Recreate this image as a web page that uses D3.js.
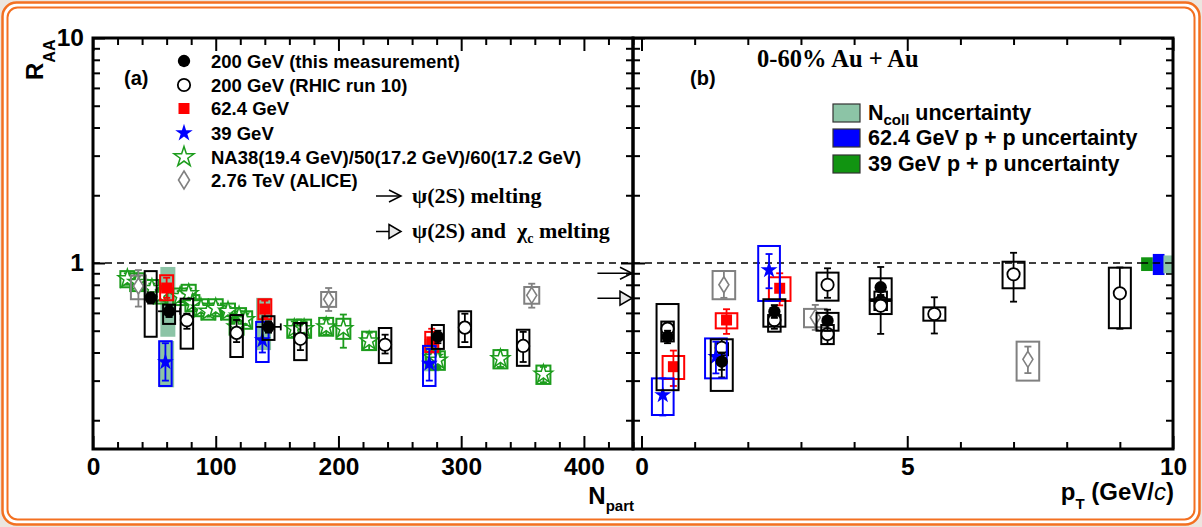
<!DOCTYPE html>
<html>
<head>
<meta charset="utf-8">
<script src="https://cdn.jsdelivr.net/npm/d3@7"></script>
<style>
  body { margin: 0; background: #ece6e0; }
  svg { display: block; font-family: "Liberation Sans", Arial, Helvetica, sans-serif; }
  .serif { font-family: "Liberation Serif", "Times New Roman", serif; }
</style>
</head>
<body>
<div id="chart"></div>
<script>
// ---------- tick values ----------
const xMajorA = [0, 100, 200, 300, 400];
const xMinorA = [20, 40, 60, 80, 120, 140, 160, 180, 220, 240, 260, 280, 320, 340, 360, 380, 420, 440];
const xMajorB = [0, 5, 10];
const xMinorB = [1, 2, 3, 4, 6, 7, 8, 9];
const yMajor = [1, 10];
const yMinor = [0.2, 0.3, 0.4, 0.5, 0.6, 0.7, 0.8, 0.9, 2, 3, 4, 5, 6, 7, 8, 9];

// ---------- panel (a): R_AA vs Npart ----------
// rows: [Npart, RAA, statLo, statHi, sysLo, sysHi, xErr]
const filledA = [
  [47, 0.70, 0.66, 0.74, 0.47, 0.92, 0],
  [62, 0.61, 0.575, 0.645, 0.536, 0.653, 9],
  [143, 0.52, 0.49, 0.55, 0.455, 0.58, 10],
  [281, 0.47, 0.44, 0.50, 0.415, 0.53, 0]
];
const openA = [
  [76.5, 0.556, 0.51, 0.595, 0.416, 0.694],
  [117, 0.489, 0.445, 0.558, 0.382, 0.587],
  [169, 0.46, 0.41, 0.537, 0.37, 0.541],
  [238, 0.433, 0.396, 0.48, 0.359, 0.514],
  [303, 0.516, 0.445, 0.595, 0.423, 0.61],
  [350.5, 0.428, 0.363, 0.494, 0.349, 0.505]
];
const redA = [
  [60, 0.774, 0.70, 0.86, 0.683, 0.882],
  [140, 0.624, 0.57, 0.68, 0.562, 0.69],
  [276, 0.446, 0.40, 0.51, 0.402, 0.494]
];
const blueA = [
  [59, 0.363, 0.30, 0.44, 0.284, 0.449],
  [138, 0.454, 0.40, 0.52, 0.363, 0.547],
  [274, 0.357, 0.30, 0.415, 0.284, 0.428]
];
const greenA = [
  [28, 0.85, 0.80, 0.90, 0.78, 0.92],
  [36, 0.82, 0.77, 0.87, 0.75, 0.90],
  [48, 0.77, 0.73, 0.81, 0.71, 0.84],
  [55, 0.72, 0.68, 0.76, 0.66, 0.79],
  [71, 0.71, 0.67, 0.75, 0.65, 0.77],
  [78, 0.73, 0.69, 0.77, 0.67, 0.80],
  [81, 0.66, 0.63, 0.70, 0.61, 0.72],
  [88, 0.63, 0.60, 0.66, 0.58, 0.69],
  [94, 0.61, 0.58, 0.64, 0.56, 0.66],
  [100, 0.63, 0.60, 0.66, 0.58, 0.69],
  [110, 0.61, 0.58, 0.64, 0.56, 0.66],
  [119, 0.58, 0.55, 0.61, 0.53, 0.63],
  [124, 0.56, 0.53, 0.59, 0.51, 0.61],
  [117, 0.52, 0.49, 0.55, 0.48, 0.57],
  [164, 0.51, 0.47, 0.55, 0.465, 0.56],
  [172, 0.51, 0.47, 0.55, 0.465, 0.56],
  [190, 0.52, 0.48, 0.56, 0.475, 0.57],
  [204, 0.51, 0.42, 0.59, 0.46, 0.565],
  [225, 0.45, 0.41, 0.49, 0.41, 0.495],
  [277, 0.38, 0.35, 0.41, 0.345, 0.415],
  [281, 0.37, 0.34, 0.40, 0.335, 0.405],
  [332, 0.375, 0.345, 0.41, 0.34, 0.41],
  [367, 0.32, 0.295, 0.345, 0.29, 0.35]
];
const grayA = [
  [37, 0.79, 0.64, 0.93, 0.69, 0.88],
  [192, 0.69, 0.612, 0.774, 0.638, 0.743],
  [357.5, 0.718, 0.633, 0.809, 0.659, 0.782]
];
// Ncoll uncertainty bands: [Npart, lo, hi]
const ncollA = [
  [61, 0.47, 0.96],
  [60, 0.28, 0.45],
  [139, 0.41, 0.70],
  [276, 0.33, 0.46]
];
// melting scenario arrows at the right edge: RAA level
const meltLevels = [0.90, 0.697];

// ---------- panel (b): R_AA vs pT ----------
const filledB = [
  [0.49, 0.47, 0.44, 0.50, 0.272, 0.657],
  [1.51, 0.364, 0.335, 0.40, 0.27, 0.458],
  [2.5, 0.608, 0.57, 0.65, 0.521, 0.69],
  [3.5, 0.554, 0.50, 0.62, 0.50, 0.60],
  [4.5, 0.78, 0.70, 0.96, 0.69, 0.855]
];
const openWideB = [
  [3.5, 0.80, 0.70, 0.947, 0.68, 0.906],
  [4.5, 0.646, 0.484, 0.72, 0.593, 0.678],
  [5.51, 0.593, 0.486, 0.704, 0.554, 0.635],
  [7.0, 0.891, 0.673, 1.11, 0.772, 1.013],
  [9.0, 0.733, 0.51, 0.955, 0.513, 0.953]
];
const openNarrowB = [
  [0.49, 0.51, 0.48, 0.54, 0.448, 0.549],
  [1.51, 0.42, 0.31, 0.46, 0.389, 0.44],
  [2.5, 0.558, 0.51, 0.60, 0.495, 0.587],
  [3.5, 0.483, 0.436, 0.53, 0.436, 0.53],
  [4.5, 0.67, 0.62, 0.72, 0.618, 0.746]
];
const redB = [
  [0.6, 0.346, 0.284, 0.408, 0.305, 0.386],
  [1.6, 0.558, 0.484, 0.623, 0.512, 0.598],
  [2.6, 0.772, 0.648, 0.90, 0.678, 0.864]
];
const blueB = [
  [0.4, 0.259, 0.21, 0.307, 0.211, 0.307],
  [1.4, 0.383, 0.323, 0.447, 0.307, 0.462],
  [2.4, 0.931, 0.772, 1.096, 0.678, 1.19]
];
const grayB = [
  [1.55, 0.80, 0.70, 0.92, 0.69, 0.921],
  [3.27, 0.573, 0.504, 0.651, 0.518, 0.625],
  [7.27, 0.373, 0.324, 0.425, 0.30, 0.447]
];
// global uncertainties drawn at RAA = 1: [lo, hi]
const uncRanges = [[0.921, 1.06], [0.884, 1.097], [0.90, 1.08]];
const uncLabels = ["39 GeV p + p uncertainty", "62.4 GeV p + p uncertainty", "coll uncertainty"];

const legendA = [
  "200 GeV (this measurement)",
  "200 GeV (RHIC run 10)",
  "62.4 GeV",
  "39 GeV",
  "NA38(19.4 GeV)/50(17.2 GeV)/60(17.2 GeV)",
  "2.76 TeV (ALICE)"
];

// ---------- colours ----------
const cRed = "#ff0000", cBlue = "#0000ff", cGreen = "#1c9c1c", cGray = "#808080";
const cTeal = "#8cc4a6", cDkGreen = "#119411";

// ---------- svg + frame ----------
const W = 1202, H = 527;
const svg = d3.select("#chart").append("svg").attr("width", W).attr("height", H);
svg.append("rect").attr("width", W).attr("height", H).attr("fill", "#ece6e0");
svg.append("rect").attr("x", 2.5).attr("y", 2.5).attr("width", W - 5).attr("height", H - 5)
  .attr("rx", 14).attr("fill", "#fff").attr("stroke", "#f37021").attr("stroke-width", 2.5);
svg.append("rect").attr("x", 7.5).attr("y", 7.5).attr("width", W - 15).attr("height", H - 15)
  .attr("rx", 10).attr("fill", "none").attr("stroke", "#f37021").attr("stroke-width", 2);

// ---------- scales ----------
const yTop = 38, yBot = 449;
const y = d3.scaleLog().domain([0.149, 10]).range([yBot, yTop]);
const xa = d3.scaleLinear().domain([0, 440]).range([93, 633]);
const xb = d3.scaleLinear().domain([-0.16, 10]).range([633, 1173]);

// ---------- axes ----------
function tickGroup(axis, tr, vals, size, labels) {
  const g = svg.append("g").attr("transform", tr)
    .call(axis.tickValues(vals).tickSizeInner(-size).tickSizeOuter(0).tickPadding(9)
      .tickFormat(labels ? d3.format("d") : ""));
  g.select(".domain").remove();
  g.selectAll(".tick line").attr("stroke", "#000").attr("stroke-width", 2);
  g.selectAll(".tick text").attr("fill", "#000").attr("font-size", 24.5).attr("font-weight", "bold")
    .attr("font-family", "'Liberation Sans', Arial, sans-serif");
  return g;
}
function drawAxes(x, xMaj, xMin, left, right) {
  tickGroup(d3.axisBottom(x), `translate(0,${yBot})`, xMaj, 13, true);
  tickGroup(d3.axisBottom(x), `translate(0,${yBot})`, xMin, 7, false);
  tickGroup(d3.axisTop(x), `translate(0,${yTop})`, xMaj, 13, false);
  tickGroup(d3.axisTop(x), `translate(0,${yTop})`, xMin, 7, false);
  tickGroup(d3.axisLeft(y), `translate(${left},0)`, yMajor, 12, left === 93);
  tickGroup(d3.axisLeft(y), `translate(${left},0)`, yMinor, 7, false);
  tickGroup(d3.axisRight(y), `translate(${right},0)`, yMajor, 12, false);
  tickGroup(d3.axisRight(y), `translate(${right},0)`, yMinor, 7, false);
}
drawAxes(xa, xMajorA, xMinorA, 93, 633);
drawAxes(xb, xMajorB, xMinorB, 633, 1173);

// dashed line at RAA = 1
svg.append("line").attr("x1", xa(0)).attr("x2", xb(10)).attr("y1", y(1)).attr("y2", y(1))
  .attr("stroke", "#000").attr("stroke-width", 1.6).attr("stroke-dasharray", "7,5");

// ---------- markers ----------
const circlePath = d3.symbol(d3.symbolCircle, 120)();
const squarePath = d3.symbol(d3.symbolSquare, 121)();
const starPath = d3.symbol(d3.symbolStar, 90)();
const openStarPath = d3.symbol(d3.symbolStar, 105)();
const diamondPath = "M0,-8L5,0L0,8L-5,0Z";

const styles = {
  filled: { color: "#000", path: circlePath, fill: "#000" },
  open: { color: "#000", path: circlePath, fill: "#fff", stroke: "#000", sw: 1.8 },
  red: { color: cRed, path: squarePath, fill: cRed },
  blue: { color: cBlue, path: starPath, fill: cBlue },
  green: { color: cGreen, path: openStarPath, fill: "#fff", stroke: cGreen, sw: 1.5 },
  gray: { color: cGray, path: diamondPath, fill: "#fff", stroke: cGray, sw: 1.6 }
};

function drawSeries(x, rows, st, bw) {
  const g = svg.append("g");
  g.selectAll(null).data(rows).join("rect")
    .attr("x", d => x(d[0]) - bw / 2).attr("width", bw)
    .attr("y", d => y(d[5])).attr("height", d => y(d[4]) - y(d[5]))
    .attr("fill", "none").attr("stroke", st.color).attr("stroke-width", 2);
  g.selectAll(null).data(rows).join("line")
    .attr("x1", d => x(d[0])).attr("x2", d => x(d[0]))
    .attr("y1", d => y(d[2])).attr("y2", d => y(d[3]))
    .attr("stroke", st.color).attr("stroke-width", 1.8);
  g.selectAll(null).data(rows.flatMap(d => [[d[0], d[2]], [d[0], d[3]]])).join("line")
    .attr("x1", d => x(d[0]) - 3.5).attr("x2", d => x(d[0]) + 3.5)
    .attr("y1", d => y(d[1])).attr("y2", d => y(d[1]))
    .attr("stroke", st.color).attr("stroke-width", 1.8);
  const xe = rows.filter(d => d[6]);
  g.selectAll(null).data(xe).join("line")
    .attr("x1", d => x(d[0] - d[6])).attr("x2", d => x(d[0] + d[6]))
    .attr("y1", d => y(d[1])).attr("y2", d => y(d[1]))
    .attr("stroke", st.color).attr("stroke-width", 1.8);
  g.selectAll(null).data(xe).join("line")
    .attr("x1", d => x(d[0] + d[6])).attr("x2", d => x(d[0] + d[6]))
    .attr("y1", d => y(d[1]) - 3.5).attr("y2", d => y(d[1]) + 3.5)
    .attr("stroke", st.color).attr("stroke-width", 1.8);
  g.selectAll(null).data(rows).join("path")
    .attr("transform", d => `translate(${x(d[0])},${y(d[1])})`)
    .attr("d", st.path).attr("fill", st.fill)
    .attr("stroke", st.stroke || "none").attr("stroke-width", st.sw || 0);
}

// panel (a)
svg.append("g").selectAll("rect").data(ncollA).join("rect")
  .attr("x", d => xa(d[0]) - 7.5).attr("width", 15)
  .attr("y", d => y(d[2])).attr("height", d => y(d[1]) - y(d[2]))
  .attr("fill", cTeal);
drawSeries(xa, greenA, styles.green, 14);
drawSeries(xa, grayA, styles.gray, 15);
drawSeries(xa, openA, styles.open, 12.5);
drawSeries(xa, redA, styles.red, 13);
drawSeries(xa, blueA, styles.blue, 12.5);
drawSeries(xa, filledA, styles.filled, 12);

// panel (b)
drawSeries(xb, grayB, styles.gray, 22.6);
drawSeries(xb, openNarrowB, styles.open, 12.5);
drawSeries(xb, openWideB, styles.open, 22);
drawSeries(xb, redB, styles.red, 21.6);
drawSeries(xb, blueB, styles.blue, 21.7);
drawSeries(xb, filledB, styles.filled, 22);

const uncColors = [cDkGreen, cBlue, cTeal];
const uncX = [[9.4, 9.62], [9.62, 9.84], [9.82, 10]];
svg.append("g").selectAll("rect").data(uncRanges).join("rect")
  .attr("x", (d, i) => xb(uncX[i][0])).attr("width", (d, i) => xb(uncX[i][1]) - xb(uncX[i][0]))
  .attr("y", d => y(d[1])).attr("height", d => y(d[0]) - y(d[1]))
  .attr("fill", (d, i) => uncColors[i]);
svg.append("line").attr("x1", xb(9.4)).attr("x2", xb(10)).attr("y1", y(1)).attr("y2", y(1))
  .attr("stroke", "#000").attr("stroke-width", 1.6).attr("stroke-dasharray", "7,5");

// panel frames
[[93, 633], [633, 1173]].forEach(p => {
  svg.append("rect").attr("x", p[0]).attr("y", yTop).attr("width", p[1] - p[0]).attr("height", yBot - yTop)
    .attr("fill", "none").attr("stroke", "#000").attr("stroke-width", 3);
});

// ---------- arrows ----------
function openArrow(x0, x1, yy) {
  const g = svg.append("g").attr("stroke", "#000").attr("stroke-width", 1.5).attr("fill", "none");
  g.append("line").attr("x1", x0).attr("x2", x1).attr("y1", yy).attr("y2", yy);
  g.append("path").attr("d", `M${x1 - 12},${yy - 6}L${x1},${yy}L${x1 - 12},${yy + 6}`);
}
function triArrow(x0, x1, yy) {
  svg.append("line").attr("x1", x0).attr("x2", x1 - 12).attr("y1", yy).attr("y2", yy)
    .attr("stroke", "#000").attr("stroke-width", 1.5);
  svg.append("path").attr("d", `M${x1 - 12},${yy - 7}L${x1},${yy}L${x1 - 12},${yy + 7}Z`)
    .attr("fill", "#e8e8e8").attr("stroke", "#000").attr("stroke-width", 1.5);
}
openArrow(xa(411), xa(440) - 1, y(meltLevels[0]));
triArrow(xa(411), xa(440) - 1, y(meltLevels[1]));
openArrow(376, 401, 196);
triArrow(376, 401, 231.5);

const tA = svg.append("text").attr("class", "serif").attr("x", 412).attr("y", 203)
  .attr("font-size", 22).attr("font-weight", "bold");
tA.text("\u03C8(2S) melting");
const tB = svg.append("text").attr("class", "serif").attr("x", 412).attr("y", 238)
  .attr("font-size", 22).attr("font-weight", "bold");
tB.append("tspan").text("\u03C8(2S) and\u00A0\u00A0\u03C7");
tB.append("tspan").attr("font-size", 14).attr("dy", 5).text("c");
tB.append("tspan").attr("dy", -5).text("\u00A0melting");

// ---------- legend (a) ----------
const legRows = [61, 85, 108.5, 133, 157, 180];
const legStyles = [styles.filled, styles.open, styles.red, styles.blue, styles.green, styles.gray];
const legPaths = [circlePath, circlePath, squarePath, d3.symbol(d3.symbolStar, 95)(),
  d3.symbol(d3.symbolStar, 125)(), "M0,-9L5.5,0L0,9L-5.5,0Z"];
legendA.forEach((lab, i) => {
  const st = legStyles[i];
  svg.append("path").attr("transform", `translate(184,${legRows[i]})`).attr("d", legPaths[i])
    .attr("fill", st.fill).attr("stroke", st.stroke || "none").attr("stroke-width", st.sw || 0);
  svg.append("text").attr("x", 211).attr("y", legRows[i] + 6.5).attr("font-size", 18.5)
    .attr("font-weight", "bold").text(lab);
});

// ---------- legend (b) ----------
const legBRows = [113, 138, 164];
const legBColors = [cTeal, cBlue, cDkGreen];
[2, 1, 0].forEach((k, i) => {
  svg.append("rect").attr("x", 833).attr("y", legBRows[i] - 9).attr("width", 27).attr("height", 18)
    .attr("fill", legBColors[i]).attr("stroke", "#333").attr("stroke-width", 1.2);
  const t = svg.append("text").attr("x", 868).attr("y", legBRows[i] + 7).attr("font-size", 21.5)
    .attr("font-weight", "bold");
  if (k === 2) {
    t.append("tspan").text("N");
    t.append("tspan").attr("font-size", 15).attr("dy", 5).text(uncLabels[k].split(" ")[0]);
    t.append("tspan").attr("dy", -5).text(" uncertainty");
  } else {
    t.text(uncLabels[k]);
  }
});

// ---------- labels ----------
svg.append("text").attr("x", 124).attr("y", 85).attr("font-size", 20).attr("font-weight", "bold").text("(a)");
svg.append("text").attr("x", 690).attr("y", 85).attr("font-size", 20).attr("font-weight", "bold").text("(b)");
svg.append("text").attr("class", "serif").attr("x", 757).attr("y", 67).attr("font-size", 24.5)
  .attr("font-weight", "bold").text("0-60% Au + Au");

const yt = svg.append("text").attr("transform", "translate(43,80) rotate(-90)")
  .attr("font-size", 24).attr("font-weight", "bold");
yt.append("tspan").text("R");
yt.append("tspan").attr("font-size", 16).attr("dy", 12).text("AA");

const xtA = svg.append("text").attr("x", 634).attr("y", 504).attr("text-anchor", "end")
  .attr("font-size", 24).attr("font-weight", "bold");
xtA.append("tspan").text("N");
xtA.append("tspan").attr("font-size", 15).attr("dy", 7).text("part");

const xtB = svg.append("text").attr("x", 1174).attr("y", 500).attr("text-anchor", "end")
  .attr("font-size", 24).attr("font-weight", "bold");
xtB.append("tspan").text("p");
xtB.append("tspan").attr("font-size", 15).attr("dy", 9).text("T");
xtB.append("tspan").attr("dy", -9).text(" (GeV/");
xtB.append("tspan").attr("font-style", "italic").attr("font-weight", "normal").text("c");
xtB.append("tspan").text(")");
</script>
</body>
</html>
